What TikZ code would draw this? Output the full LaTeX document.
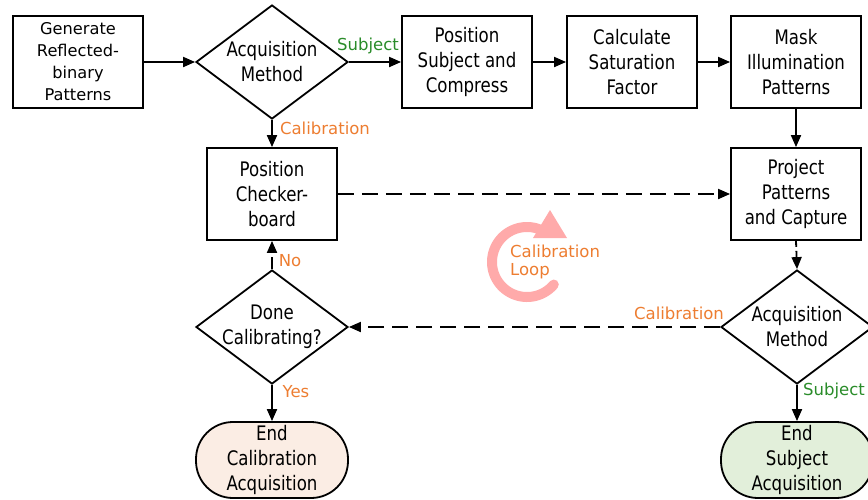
\documentclass[tikz,border=0pt]{standalone}
\usepackage{fontspec}
\setmainfont{DejaVu Sans}
\newfontfamily\myNodeFam[FakeStretch=0.83]{DejaVu Sans}
\newcommand\myNF{\myNodeFam\fontsize{20pt}{25pt}\selectfont}
\newcommand\myGF{\fontsize{16.2pt}{22pt}\selectfont}
\newcommand\myLF{\fontsize{16.5pt}{18pt}\selectfont}
\usetikzlibrary{shapes.geometric,arrows.meta}
\definecolor{lblorange}{HTML}{ED7D31}
\definecolor{lblgreen}{HTML}{2A8C2A}
\definecolor{looppink}{HTML}{FFAAAA}
\definecolor{endpeach}{HTML}{FBEDE4}
\definecolor{endgreen}{HTML}{E2EFDA}
\tikzset{
  procbox/.style={draw, line width=1.8pt, minimum width=130pt, minimum height=92pt, inner sep=0pt, align=center, font=\myNF},
  genbox/.style={procbox, font=\myGF},
  dia/.style={diamond, draw, line width=1.8pt, minimum width=152pt, minimum height=114pt, inner sep=0pt},
  ntext/.style={align=center, font=\myNF, inner sep=0pt},
  term/.style={draw, line width=1.8pt, rectangle, rounded corners=37pt, minimum width=152pt, minimum height=76pt, inner sep=0pt, align=center, font=\myNF},
  arr/.style={-{Triangle[length=12pt,width=10pt]}, line width=1.8pt},
  dsh/.style={arr, dash pattern=on 16pt off 8pt},
  olbl/.style={text=lblorange, font=\myLF, inner sep=0pt},
  glbl/.style={text=lblgreen, font=\myLF, inner sep=0pt}
}
\begin{document}
\begin{tikzpicture}[x=1pt,y=-1pt]
\useasboundingbox (0,0) rectangle (868,499);
% nodes
\node[genbox] (gen) at (78,62) {Generate\\Reflected-\\binary\\Patterns};
\node[dia] (d1) at (272,62) {};
\node[ntext] (d1t) at (d1.center) {Acquisition\\Method};
\node[procbox] (psub) at (467,62) {Position\\Subject and\\Compress};
\node[procbox] (calc) at (632,62) {Calculate\\Saturation\\Factor};
\node[procbox] (mask) at (796,62) {Mask\\Illumination\\Patterns};
\node[procbox] (pchk) at (272,194) {Position\\Checker-\\board};
\node[procbox] (proj) at (796,194) {Project\\Patterns\\and Capture};
\node[dia] (d2) at (797,327) {};
\node[ntext] (d2t) at (d2.center) {Acquisition\\Method};
\node[dia] (d3) at (272,327) {};
\node[ntext] (d3t) at (d3.center) {Done\\Calibrating?};
\node[term, fill=endpeach] (endc) at (272,460) {End\\Calibration\\Acquisition};
\node[term, fill=endgreen] (ends) at (797,460) {End\\Subject\\Acquisition};
% connectors
\draw[arr] (gen.east) -- (d1.west);
\draw[arr] (d1.east) -- (psub.west);
\draw[arr] (psub.east) -- (calc.west);
\draw[arr] (calc.east) -- (mask.west);
\draw[arr] (mask.south) -- (proj.north);
\draw[arr] (d1.south) -- (pchk.north);
\draw[dsh] (pchk.east) -- (proj.west);
\draw[arr, dash pattern=on 6pt off 4pt] (proj.south) -- (d2.north);
\draw[dsh] (d2.west) -- (d3.east);
\draw[arr, dash pattern=on 12pt off 4pt] (d3.north) -- (pchk.south);
\draw[arr] (d3.south) -- (endc.north);
\draw[arr] (d2.south) -- (ends.north);
% labels
\node[glbl] (l1) at (368,46) {Subject};
\node[olbl] (l2) at (325,128) {Calibration};
\node[olbl] (l3) at (290,261) {No};
\node[olbl] (l4) at (296,392) {Yes};
\node[olbl] (l5) at (679,313) {Calibration};
\node[glbl] (l6) at (834,391) {Subject};
% loop
\draw[looppink, line width=10pt, line cap=round] plot[domain=40:290, samples=80, smooth] ({527+35*cos(\x)},{262+35*sin(\x)});
\fill[looppink] (533,238) -- (567,238) -- (550,210) -- cycle;
\node[olbl, align=left, anchor=west] (loopt) at (510,262) {Calibration\\Loop};
\end{tikzpicture}
\end{document}
